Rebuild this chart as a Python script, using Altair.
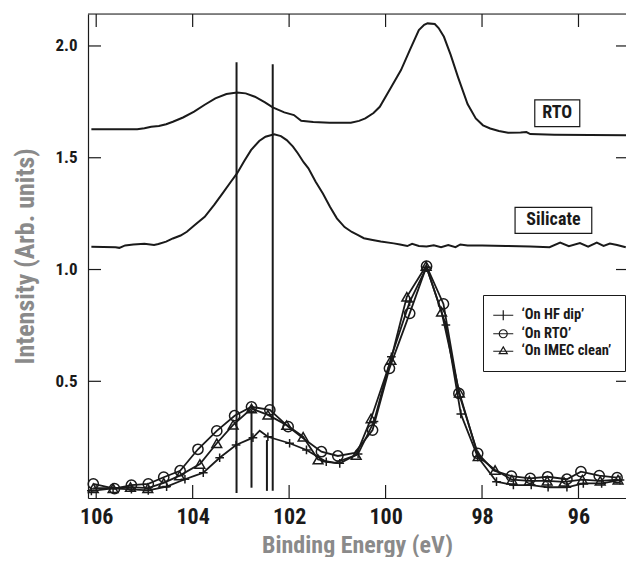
import altair as alt
import pandas as pd

FONT = "'Liberation Sans Narrow', 'Roboto Condensed', 'DejaVu Sans Condensed', 'Arial Narrow', sans-serif"
INK = "#1a1a1a"
GREY = "#8a8a8a"

# ---------------- data ----------------
rto_x = [106.1, 105.15, 105.0, 104.86, 104.7, 104.55, 104.41, 104.2, 103.97, 103.75, 103.53, 103.3,
         103.08, 102.9, 102.71, 102.5, 102.34, 102.1, 101.9, 101.75, 101.5, 101.16, 100.72, 100.55,
         100.42, 100.25, 100.12, 99.9, 99.68, 99.5, 99.31, 99.2, 99.13, 98.98, 98.9, 98.79, 98.65,
         98.5, 98.3, 98.13, 97.98, 97.83, 97.65, 97.46, 97.2, 97.08, 97.0, 96.5, 95.0]
rto_y = [1.627, 1.627, 1.632, 1.639, 1.642, 1.650, 1.661, 1.680, 1.706, 1.737, 1.766, 1.785,
         1.792, 1.788, 1.773, 1.748, 1.725, 1.703, 1.691, 1.665, 1.660, 1.657, 1.657, 1.665,
         1.676, 1.700, 1.728, 1.810, 1.892, 1.980, 2.071, 2.095, 2.101, 2.098, 2.080, 2.041, 1.960,
         1.862, 1.740, 1.676, 1.645, 1.631, 1.620, 1.612, 1.613, 1.615, 1.606, 1.603, 1.601]

sil_x = [106.1, 105.6, 105.52, 105.4, 105.23, 105.0, 104.8, 104.71, 104.55, 104.41, 104.25, 104.12,
         103.95, 103.75, 103.55, 103.38, 103.2, 103.08, 102.93, 102.79, 102.62, 102.49, 102.31,
         102.17, 102.05, 101.92, 101.82, 101.7, 101.6, 101.45, 101.3, 101.15, 101.01, 100.85, 100.7,
         100.57, 100.45, 100.27, 100.1, 99.83, 99.7, 99.55, 99.45, 99.31, 99.15, 99.0, 98.85, 98.7,
         98.55, 98.45, 98.3, 98.0, 97.5, 97.0, 96.6, 96.38, 96.2, 95.97, 95.8, 95.62, 95.48, 95.35,
         95.2, 95.02]
sil_y = [1.102, 1.100, 1.097, 1.108, 1.112, 1.115, 1.110, 1.114, 1.125, 1.139, 1.152, 1.169,
         1.200, 1.236, 1.290, 1.341, 1.395, 1.430, 1.485, 1.534, 1.575, 1.594, 1.605,
         1.597, 1.579, 1.550, 1.520, 1.480, 1.453, 1.393, 1.340, 1.280, 1.229, 1.190, 1.168,
         1.154, 1.140, 1.132, 1.125, 1.117, 1.112, 1.105, 1.115, 1.105, 1.103, 1.108, 1.100, 1.110,
         1.100, 1.112, 1.107, 1.107, 1.105, 1.103, 1.100, 1.120, 1.104, 1.118, 1.102, 1.120, 1.106,
         1.116, 1.110, 1.100]

series_names = ["\u2018On HF dip\u2019", "\u2018On RTO\u2019", "\u2018On IMEC clean\u2019"]

hf_x = [106.1, 105.65, 105.27, 104.92, 104.54, 104.16, 103.95, 103.78, 103.44, 103.10, 102.75, 102.61,
        102.44, 101.99, 101.64, 101.23, 100.95, 100.57, 100.24, 99.88, 99.50, 99.15, 98.75, 98.44,
        98.09, 97.70, 97.35, 96.98, 96.63, 96.24, 95.90, 95.52, 95.14]
hf_y = [0.010, 0.021, 0.017, 0.012, 0.029, 0.062, 0.078, 0.091, 0.158, 0.215, 0.248, 0.279,
        0.252, 0.223, 0.193, 0.140, 0.133, 0.175, 0.320, 0.610, 0.855, 1.010, 0.752, 0.354,
        0.162, 0.051, 0.036, 0.036, 0.026, 0.026, 0.043, 0.043, 0.058]
hf_m = [1, 1, 1, 1, 1, 1, 0, 1, 1, 1, 1, 0,
        1, 1, 1, 1, 1, 1, 1, 1, 1, 1, 1, 1,
        1, 1, 1, 1, 1, 1, 1, 1, 1]

ox_x = [106.06, 105.62, 105.27, 104.92, 104.60, 104.26, 103.89, 103.50, 103.13, 102.78, 102.40, 102.02,
        101.66, 101.33, 100.99, 100.64, 100.27, 99.92, 99.50, 99.15, 98.80, 98.48, 98.09, 97.75,
        97.39, 97.00, 96.64, 96.24, 95.95, 95.57, 95.20]
ox_y = [0.041, 0.020, 0.036, 0.041, 0.071, 0.100, 0.196, 0.278, 0.346, 0.386, 0.372, 0.297,
        0.237, 0.185, 0.166, 0.180, 0.282, 0.558, 0.804, 1.015, 0.846, 0.446, 0.178, 0.100,
        0.076, 0.066, 0.073, 0.062, 0.096, 0.078, 0.069]
ox_m = [1, 1, 1, 1, 1, 1, 1, 1, 1, 1, 1, 1,
        0, 1, 1, 0, 1, 1, 1, 1, 1, 1, 1, 0,
        1, 1, 1, 1, 1, 1, 1]

im_x = [106.06, 105.65, 105.29, 104.93, 104.60, 104.27, 103.85, 103.50, 103.16, 102.78, 102.44, 102.05,
        101.71, 101.40, 101.05, 100.61, 100.30, 99.89, 99.56, 99.16, 98.84, 98.47, 98.08, 97.73,
        97.38, 97.02, 96.65, 96.30, 95.92, 95.55, 95.18]
im_y = [0.022, 0.022, 0.027, 0.022, 0.046, 0.078, 0.130, 0.223, 0.305, 0.378, 0.350, 0.304,
        0.252, 0.150, 0.135, 0.170, 0.334, 0.595, 0.878, 1.016, 0.811, 0.449, 0.165, 0.103,
        0.060, 0.055, 0.055, 0.050, 0.060, 0.055, 0.060]
im_m = [1, 1, 1, 1, 1, 1, 1, 1, 1, 1, 1, 1,
        1, 1, 0, 1, 1, 1, 1, 1, 1, 1, 1, 1,
        1, 1, 1, 1, 1, 1, 1]

vl_x = [103.09, 102.34, 102.78, 102.46]
vl_top = [1.927, 1.918, 0.372, 0.237]
vl_bot = [0.0, 0.01, 0.024, 0.01]

ann_labels = ["RTO", "Silicate"]
ann_x = [96.44, 96.52]
ann_y = [1.699, 1.220]

x_ticks = [106, 104, 102, 100, 98, 96]
y_ticks = [0.5, 1.0, 1.5, 2.0]

# ---------------- layout / styles ----------------
W, H = 538, 484
TICK = 13

xs = alt.Scale(domain=[95.015, 106.17], reverse=True, nice=False, zero=False)
ys = alt.Scale(domain=[-0.022, 2.143], nice=False, zero=False)

xaxis = alt.Axis(title="Binding Energy (eV)", values=x_ticks, format="d", ticks=False, grid=False,
                 domain=True, domainColor=INK, domainWidth=1.2,
                 labelFont=FONT, labelFontSize=22, labelFontWeight="bold", labelColor=INK,
                 labelPadding=8, labelFlush=False,
                 titleFont=FONT, titleFontSize=24, titleFontWeight="bold", titleColor=GREY,
                 titleBaseline="alphabetic", titleY=54)
yaxis = alt.Axis(title="Intensity (Arb. units)", values=y_ticks, format=".1f", ticks=False, grid=False,
                 domain=True, domainColor=INK, domainWidth=1.2,
                 labelFont=FONT, labelFontSize=17, labelFontWeight="bold", labelColor=INK,
                 labelPadding=11,
                 titleFont=FONT, titleFontSize=26, titleFontWeight="bold", titleColor=GREY,
                 titleBaseline="alphabetic", titleX=-55)


def X(f):
    return alt.X(f"{f}:Q", scale=xs, axis=xaxis)


def Y(f):
    return alt.Y(f"{f}:Q", scale=ys, axis=yaxis)


layers = []

# upper reference spectra
for xv, yv in [(rto_x, rto_y), (sil_x, sil_y)]:
    d = pd.DataFrame({"x": xv, "y": yv})
    layers.append(alt.Chart(d).mark_line(color=INK, strokeWidth=2).encode(x=X("x"), y=Y("y")))

# vertical marker lines
vdf = pd.DataFrame({"x": vl_x, "top": vl_top, "bot": vl_bot})
layers.append(alt.Chart(vdf).mark_rule(color=INK, strokeWidth=2).encode(
    x=X("x"), y=Y("top"), y2=alt.Y2("bot")))

# lower series
marker_shapes = ["M-1,0H1M0,-1V1", "circle", "triangle-up"]
marker_sizes = [75, 105, 95]
for (xv, yv, mv), shp, sz in zip([(hf_x, hf_y, hf_m), (ox_x, ox_y, ox_m), (im_x, im_y, im_m)],
                                  marker_shapes, marker_sizes):
    d = pd.DataFrame({"x": xv, "y": yv, "m": mv})
    base = alt.Chart(d)
    layers.append(base.mark_line(color=INK, strokeWidth=1.8).encode(x=X("x"), y=Y("y")))
    layers.append(base.transform_filter("datum.m == 1").mark_point(
        filled=False, color=INK, strokeWidth=1.5, opacity=1, size=sz, shape=shp
    ).encode(x=X("x"), y=Y("y")))

# annotation boxes + labels
box_shapes = ["M-1,-0.593H1V0.593H-1Z", "M-1,-0.339H1V0.339H-1Z"]
box_sizes = [2025, 5883]
adf = pd.DataFrame({"label": ann_labels, "x": ann_x, "y": ann_y})
for i, lab in enumerate(ann_labels):
    sub = alt.Chart(adf).transform_filter(alt.datum.label == lab)
    layers.append(sub.mark_point(filled=True, fill="white", stroke=INK, strokeWidth=1.2, opacity=1,
                                 shape=box_shapes[i], size=box_sizes[i]).encode(x=X("x"), y=Y("y")))
layers.append(alt.Chart(adf).mark_text(font=FONT, fontSize=18, fontWeight="bold", color=INK,
                                       baseline="middle", align="center").encode(
    x=X("x"), y=Y("y"), text="label:N"))

# inward ticks
xt = pd.DataFrame({"v": x_ticks})
yt = pd.DataFrame({"v": y_ticks})
layers.append(alt.Chart(xt).mark_rule(color=INK, strokeWidth=1.2).encode(
    x=X("v"), y=alt.value(H), y2=alt.value(H - TICK)))
layers.append(alt.Chart(xt).mark_rule(color=INK, strokeWidth=1.2).encode(
    x=X("v"), y=alt.value(0), y2=alt.value(TICK)))
layers.append(alt.Chart(yt).mark_rule(color=INK, strokeWidth=1.2).encode(
    y=Y("v"), x=alt.value(0), x2=alt.value(TICK)))
layers.append(alt.Chart(yt).mark_rule(color=INK, strokeWidth=1.2).encode(
    y=Y("v"), x=alt.value(W - 10), x2=alt.value(W)))

# top frame line
layers.append(alt.Chart(pd.DataFrame({"a": [0]})).mark_rule(color=INK, strokeWidth=1.2).encode(
    x=alt.value(0), x2=alt.value(W), y=alt.value(0)))

# legend (layer with no drawn marks; legend built from explicit domain)
legend_paths = ["M-2.5,0H2.5M0,-1.25V1.25",
                "M-2.5,0H2.5M-1,0A1,1 0 1,1 1,0A1,1 0 1,1 -1,0",
                "M-2.5,0H2.5M0,-1.1L1,0.6H-1Z"]
ldf = pd.DataFrame({"series": series_names, "x": [100.0] * 3, "y": [1.0] * 3})
layers.append(alt.Chart(ldf).transform_filter("false").mark_point(
    filled=False, color=INK, strokeWidth=1.2, opacity=1).encode(
    x=X("x"), y=Y("y"),
    shape=alt.Shape("series:N", scale=alt.Scale(domain=series_names, range=legend_paths),
                    legend=alt.Legend(title=None, orient="none", legendX=395, legendY=281,
                                      padding=13, strokeColor=INK, fillColor="white",
                                      labelFont=FONT, labelFontSize=14.5, labelFontWeight="bold",
                                      labelColor=INK, symbolSize=64, symbolStrokeWidth=1.2,
                                      symbolStrokeColor=INK, labelOffset=11, rowPadding=2.5))))

chart = alt.layer(*layers).properties(
    width=W, height=H,
    autosize=alt.AutoSizeParams(type="none"),
    padding={"left": 80, "top": 6, "right": 0, "bottom": 59},
).configure_view(stroke=None).configure(background="white")

chart.save("out.html", embed_options={"renderer": "svg", "actions": False})
